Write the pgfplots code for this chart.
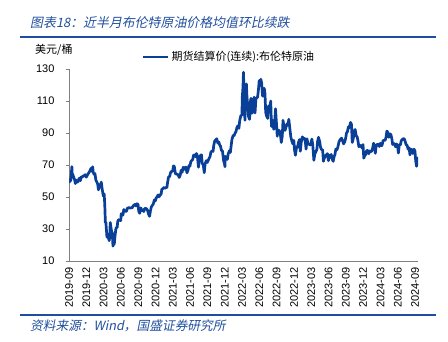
\documentclass[border=0pt]{standalone}
\usepackage{pgfplots}
\pgfplotsset{compat=1.18}
\usepackage{fontspec}
\setmainfont{Liberation Sans}
\newfontfamily\cjk{Noto Sans CJK SC}
\newfontfamily\cjkit{Noto Sans CJK SC}[FakeSlant=0.2]
\definecolor{brent}{RGB}{10,63,152}
\definecolor{hdr}{RGB}{32,78,158}
\definecolor{axgray}{RGB}{128,128,128}
\begin{document}
\begin{tikzpicture}
\useasboundingbox (0,0) rectangle (448bp,342bp);
\node[anchor=west,inner sep=0] at (30bp,319bp) {\cjkit\color{hdr}\fontsize{12.9bp}{15bp}\selectfont 图表18：近半月布伦特原油价格均值环比续跌};
\draw[hdr,line width=1.5bp] (20bp,305bp) -- (436bp,305bp);
\node[anchor=west,inner sep=0] at (35bp,292bp) {\cjk\fontsize{11bp}{13bp}\selectfont 美元/桶};
\draw[hdr,line width=1.5bp] (20bp,27bp) -- (436bp,27bp);
\node[anchor=west,inner sep=0] at (30bp,16bp) {\cjkit\color{hdr}\fontsize{12.7bp}{14bp}\selectfont 资料来源：Wind，国盛证券研究所};
\begin{axis}[
  at={(69bp,81bp)}, anchor=south west,
  scale only axis, width=349bp, height=192bp,
  xmin=0, xmax=60.5, ymin=10, ymax=130,
  axis x line*=bottom, axis y line*=left,
  axis line style={axgray, line width=0.8bp},
  ytick={10,30,50,70,90,110,130},
  xtick={0,3,...,60},
  xticklabels={2019-09,2019-12,2020-03,2020-06,2020-09,2020-12,2021-03,2021-06,2021-09,2021-12,2022-03,2022-06,2022-09,2022-12,2023-03,2023-06,2023-09,2023-12,2024-03,2024-06,2024-09},
  xticklabel style={rotate=90, anchor=east, font=\fontsize{11bp}{13bp}\selectfont},
  yticklabel style={font=\fontsize{11bp}{13bp}\selectfont, xshift=-8bp},
  /pgf/number format/assume math mode=true,
  tick align=outside,
  major tick length=3bp,
  x tick style={draw=none},
  y tick style={axgray, line width=0.8bp},
  legend style={draw=none, fill=none, at={(0.209,1.0625)}, anchor=west, inner sep=0pt, font=\cjk\fontsize{11bp}{13bp}\selectfont},
  legend image code/.code={\draw[brent,line width=2.5bp] (0bp,0bp) -- (25bp,0bp);},
]
\addplot[brent, line width=2.7bp, line join=round] coordinates {
(0.03,58.7)(0.1,60.9)(0.3,60.2)(0.5,69.0)(0.53,64.6)(0.63,64.3)(0.8,62.5)(0.97,60.8)
(1.1,58.4)(1.25,60.5)(1.4,59.4)(1.55,59.4)(1.75,61.7)(1.97,60.2)
(2.1,62.5)(2.25,62.2)(2.45,63.3)(2.6,63.0)(2.8,64.0)(2.97,62.4)
(3.1,63.0)(3.25,64.2)(3.45,65.2)(3.6,66.2)(3.8,67.9)(3.97,66.0)
(4.1,68.9)(4.2,65.4)(4.35,64.2)(4.5,64.6)(4.65,60.7)(4.8,59.5)(4.97,58.2)
(5.1,54.5)(5.25,56.3)(5.45,57.7)(5.6,59.3)(5.75,55.0)(5.9,51.7)(5.97,50.5)
(6.1,51.9)(6.2,45.3)(6.3,34.4)(6.4,33.9)(6.5,28.7)(6.58,24.9)(6.7,27.0)(6.8,24.9)(6.97,22.7)
(7.05,24.7)(7.15,34.1)(7.25,31.5)(7.4,28.1)(7.5,27.8)(7.62,19.3)(7.72,21.4)(7.85,20.5)(7.97,25.3)
(8.1,29.5)(8.2,30.9)(8.35,31.0)(8.45,34.8)(8.6,35.8)(8.75,35.5)(8.97,35.3)
(9.05,39.6)(9.2,38.6)(9.35,38.7)(9.5,42.2)(9.65,41.0)(9.8,41.0)(9.97,41.2)
(10.1,42.8)(10.25,43.2)(10.45,43.3)(10.6,43.1)(10.8,43.3)(10.97,43.3)
(11.1,44.4)(11.25,44.8)(11.45,45.4)(11.6,44.4)(11.8,45.8)(11.97,45.3)
(12.1,41.0)(12.25,39.8)(12.45,43.2)(12.6,41.4)(12.8,41.9)(12.97,40.9)
(13.1,42.7)(13.25,42.9)(13.45,42.6)(13.6,41.8)(13.8,39.2)(13.97,37.9)
(14.1,41.0)(14.25,43.6)(14.45,44.8)(14.6,45.5)(14.8,48.2)(14.97,47.6)
(15.1,49.3)(15.25,50.0)(15.45,51.3)(15.6,50.1)(15.8,51.3)(15.97,51.8)
(16.1,55.0)(16.25,55.1)(16.45,55.9)(16.6,55.4)(16.8,55.9)(16.97,55.9)
(17.1,59.3)(17.25,62.4)(17.45,62.9)(17.6,65.2)(17.8,66.1)(17.97,66.1)
(18.1,69.4)(18.25,69.2)(18.45,64.5)(18.6,64.4)(18.8,64.2)(18.97,63.5)
(19.1,62.2)(19.25,63.2)(19.45,66.8)(19.6,65.4)(19.8,68.6)(19.97,67.3)
(20.1,68.3)(20.25,68.7)(20.45,65.1)(20.6,66.4)(20.8,69.6)(20.97,69.3)
(21.1,71.9)(21.25,72.7)(21.45,73.5)(21.6,76.2)(21.8,76.2)(21.97,75.1)
(22.1,77.2)(22.25,75.6)(22.45,68.6)(22.6,74.1)(22.8,76.1)(22.97,76.3)
(23.1,70.7)(23.25,70.6)(23.45,65.2)(23.6,70.8)(23.8,72.7)(23.97,71.6)
(24.1,72.6)(24.25,73.9)(24.45,75.3)(24.6,78.1)(24.8,78.7)(24.97,78.5)
(25.1,82.4)(25.25,84.9)(25.45,85.8)(25.6,86.4)(25.8,83.7)(25.97,84.4)
(26.1,82.7)(26.25,81.9)(26.45,78.9)(26.6,78.9)(26.8,72.7)(26.97,70.6)
(27.03,68.9)(27.1,75.4)(27.25,74.4)(27.45,73.5)(27.6,76.9)(27.8,78.9)(27.97,77.8)
(28.1,81.8)(28.25,86.1)(28.45,88.4)(28.6,88.2)(28.8,90.0)(28.97,91.2)
(29.1,93.3)(29.25,94.4)(29.45,92.9)(29.6,97.9)(29.8,101.0)(29.97,101.0)
(30.05,113.0)(30.15,118.1)(30.25,128.0)(30.35,111.1)(30.5,98.0)(30.6,118.1)(30.75,120.7)(30.85,112.5)(30.97,107.9)
(31.1,100.6)(31.3,98.5)(31.4,108.8)(31.55,111.7)(31.7,102.3)(31.85,104.3)(31.97,109.3)
(32.1,112.4)(32.25,102.5)(32.4,111.5)(32.55,111.9)(32.7,112.6)(32.85,117.4)(32.97,122.8)
(33.1,119.7)(33.25,123.6)(33.4,121.2)(33.55,113.1)(33.7,113.1)(33.85,117.9)(33.97,114.8)
(34.1,102.8)(34.25,100.7)(34.45,99.1)(34.6,106.9)(34.75,103.2)(34.97,110.0)
(35.1,94.1)(35.25,98.2)(35.5,92.3)(35.65,96.6)(35.8,105.1)(35.97,95.6)
(36.1,88.0)(36.25,91.9)(36.45,91.4)(36.6,90.5)(36.8,84.1)(36.97,87.96)
(37.1,97.9)(37.25,94.3)(37.45,91.6)(37.6,93.5)(37.8,95.8)(37.97,94.8)
(38.1,98.6)(38.25,93.9)(38.45,87.6)(38.6,85.4)(38.8,83.2)(38.97,85.4)
(39.1,79.4)(39.25,76.1)(39.45,81.2)(39.6,81.0)(39.8,84.3)(39.97,85.9)
(40.1,78.6)(40.25,84.0)(40.45,87.6)(40.6,86.4)(40.8,86.7)(40.97,84.5)
(41.1,79.9)(41.25,86.4)(41.45,83.0)(41.6,83.2)(41.8,82.5)(41.97,83.9)
(42.1,86.2)(42.25,82.8)(42.45,72.97)(42.6,76.7)(42.8,78.3)(42.97,79.8)
(43.1,84.9)(43.25,87.3)(43.45,84.8)(43.6,81.1)(43.8,79.5)(43.97,79.5)
(44.1,72.3)(44.25,74.2)(44.45,75.6)(44.6,76.3)(44.8,77.1)(44.97,72.7)
(45.1,76.1)(45.25,74.8)(45.45,76.6)(45.6,73.9)(45.8,72.3)(45.97,75.4)
(46.1,76.5)(46.25,79.9)(46.45,79.6)(46.6,81.1)(46.8,84.4)(46.97,85.6)
(47.1,86.2)(47.25,86.8)(47.45,84.8)(47.6,83.2)(47.8,84.5)(47.97,86.9)
(48.1,90.0)(48.25,90.7)(48.45,93.9)(48.6,93.3)(48.8,96.6)(48.97,95.3)
(49.1,84.1)(49.25,86.0)(49.45,90.9)(49.6,92.2)(49.8,88.2)(49.97,87.4)
(50.1,84.9)(50.25,81.4)(50.45,82.3)(50.6,81.96)(50.8,80.6)(50.97,82.8)
(51.1,74.3)(51.25,75.8)(51.45,76.6)(51.6,79.1)(51.8,79.0)(51.97,77.0)
(52.1,78.8)(52.25,78.3)(52.45,78.6)(52.6,80.0)(52.8,83.6)(52.97,81.7)
(53.1,77.3)(53.25,82.2)(53.45,82.9)(53.6,83.0)(53.8,81.6)(53.97,83.6)
(54.1,82.1)(54.25,82.1)(54.45,85.3)(54.6,85.4)(54.8,85.4)(54.97,87.5)
(55.1,91.2)(55.25,90.5)(55.45,87.3)(55.6,89.5)(55.8,89.0)(55.97,86.3)
(56.1,82.8)(56.25,83.4)(56.45,83.3)(56.6,81.4)(56.8,83.1)(56.97,81.6)
(57.1,77.5)(57.25,82.6)(57.45,82.6)(57.6,85.2)(57.8,86.0)(57.97,86.4)
(58.1,86.5)(58.25,85.0)(58.45,82.6)(58.6,82.4)(58.8,79.8)(58.97,80.7)
(59.1,76.3)(59.25,79.7)(59.45,79.7)(59.6,77.2)(59.8,79.9)(59.97,78.8)
(60.1,72.7)(60.25,69.2)(60.35,71.6)(60.45,74.5)(60.5,75.0)
};
\addlegendentry{期货结算价(连续):布伦特原油}
\end{axis}
\end{tikzpicture}
\end{document}
